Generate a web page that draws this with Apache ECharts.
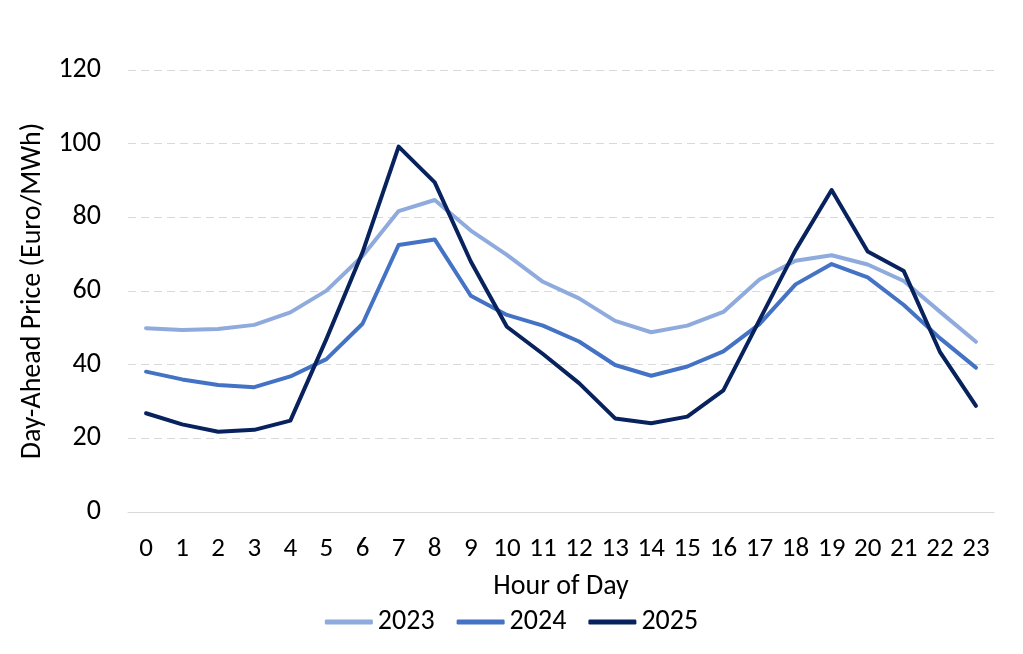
<!DOCTYPE html>
<html>
<head>
<meta charset="utf-8">
<script src="https://cdn.jsdelivr.net/npm/echarts@6/dist/echarts.min.js"></script>
<style>
html,body{margin:0;padding:0;background:#fff;}
#chart{width:1023px;height:654px;}
</style>
</head>
<body>
<div id="chart"></div>
<script>
const hours = ['0','1','2','3','4','5','6','7','8','9','10','11','12','13','14','15','16','17','18','19','20','21','22','23'];
const seriesNames = ['2023','2024','2025'];
const price2023 = [49.9, 49.4, 49.7, 50.8, 54.2, 60.1, 69.5, 81.7, 84.7, 76.4, 69.8, 62.5, 58.0, 51.9, 48.8, 50.6, 54.3, 63.1, 68.2, 69.7, 67.2, 62.7, 54.4, 46.2];
const price2024 = [38.1, 36.0, 34.5, 33.9, 36.8, 41.5, 51.1, 72.5, 74.0, 58.7, 53.5, 50.6, 46.3, 39.9, 37.0, 39.5, 43.6, 51.0, 61.8, 67.3, 63.7, 56.2, 47.2, 39.2];
const price2025 = [26.8, 23.8, 21.8, 22.3, 24.8, 47.0, 70.5, 99.2, 89.5, 68.0, 50.3, 42.9, 35.0, 25.4, 24.1, 25.9, 33.0, 52.1, 71.1, 87.4, 70.7, 65.4, 43.5, 28.8];
const colors = ['#8FAADC', '#4472C4', '#08225E'];

const FONT = 'Carlito, Lato, sans-serif';
const chart = echarts.init(document.getElementById('chart'), null, {renderer: 'canvas'});
const mk = (name, data, color) => ({
  name: name, type: 'line', data: data, symbol: 'none', smooth: false,
  lineStyle: {width: 4, color: color, cap: 'round', join: 'round'},
  itemStyle: {color: color}, emphasis: {disabled: true}
});
chart.setOption({
  animation: false,
  textStyle: {fontFamily: FONT, color: '#000'},
  grid: {left: 128, right: 29, top: 70, bottom: 142, containLabel: false},
  legend: {
    bottom: 13, left: 'center', itemGap: 22, itemWidth: 48, itemHeight: 5,
    icon: 'roundRect',
    textStyle: {fontFamily: FONT, fontSize: 28, color: '#000'},
    data: seriesNames
  },
  xAxis: {
    type: 'category', data: hours, boundaryGap: true,
    name: 'Hour of Day', nameLocation: 'middle', nameGap: 61,
    nameTextStyle: {fontFamily: FONT, fontSize: 28, color: '#000'},
    axisLine: {show: true, lineStyle: {color: '#d9d9d9', width: 1}},
    axisTick: {show: false},
    axisLabel: {fontFamily: FONT, fontSize: 27, color: '#000', margin: 24, interval: 0}
  },
  yAxis: {
    type: 'value', min: 0, max: 120, interval: 20,
    name: 'Day-Ahead Price (Euro/MWh)', nameLocation: 'middle', nameGap: 81,
    nameTextStyle: {fontFamily: FONT, fontSize: 28, color: '#000'},
    axisLine: {show: false}, axisTick: {show: false},
    axisLabel: {fontFamily: FONT, fontSize: 28, color: '#000', margin: 27},
    splitLine: {show: true, lineStyle: {color: '#d9d9d9', type: [8, 5], width: 1}}
  },
  series: [
    mk(seriesNames[0], price2023, colors[0]),
    mk(seriesNames[1], price2024, colors[1]),
    mk(seriesNames[2], price2025, colors[2])
  ]
});
</script>
</body>
</html>
